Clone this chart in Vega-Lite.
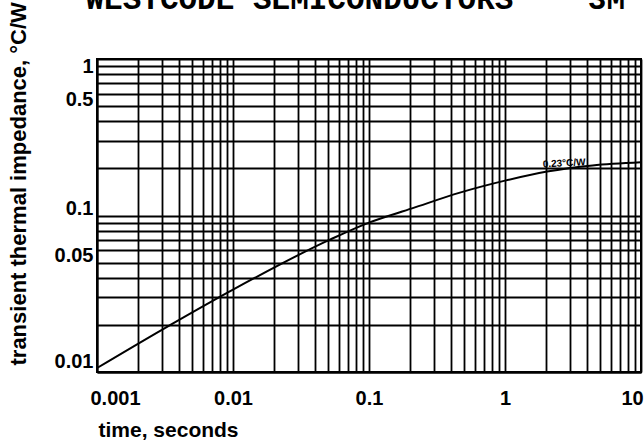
{
  "$schema": "https://vega.github.io/schema/vega-lite/v6.json",
  "width": 544,
  "height": 313,
  "autosize": {"type": "none"},
  "padding": {"left": 97, "top": 59, "right": 3, "bottom": 70},
  "background": "white",
  "view": {"stroke": "black", "strokeWidth": 2},
  "config": {
    "font": "Liberation Sans",
    "axis": {"labelColor": "black", "titleColor": "black"}
  },
  "datasets": {
    "curve": [
      {"t": 0.001, "z": 0.0106},
      {"t": 0.003, "z": 0.0186},
      {"t": 0.01, "z": 0.0336},
      {"t": 0.0516, "z": 0.0701},
      {"t": 0.1, "z": 0.0901},
      {"t": 0.207, "z": 0.111},
      {"t": 0.466, "z": 0.140},
      {"t": 1.0, "z": 0.167},
      {"t": 2.04, "z": 0.191},
      {"t": 4.4, "z": 0.209},
      {"t": 10, "z": 0.219}
    ],
    "note": [
      {"t": 1.9, "z": 0.203, "label": "0.23°C/W"}
    ]
  },
  "layer": [
    {
      "data": {"name": "curve"},
      "mark": {"type": "line", "color": "black", "strokeWidth": 2, "interpolate": "monotone"},
      "encoding": {
        "x": {
          "field": "t", "type": "quantitative",
          "scale": {"type": "log", "domain": [0.001, 10], "nice": false},
          "axis": {
            "orient": "bottom",
            "values": [0.001,0.002,0.003,0.004,0.005,0.006,0.007,0.008,0.009,0.01,0.02,0.03,0.04,0.05,0.06,0.07,0.08,0.09,0.1,0.2,0.3,0.4,0.5,0.6,0.7,0.8,0.9,1,2,3,4,5,6,7,8,9,10],
            "format": "~g",
            "labelExpr": "indexof([0.001,0.01,0.1,1,10], datum.value) >= 0 ? datum.label : ''",
            "labelOverlap": false,
            "labelFlush": false,
            "labelFont": "Liberation Sans",
            "labelFontSize": 20,
            "labelFontWeight": "bold",
            "labelPadding": 16,
            "labelOffset": {"condition": [{"test": "datum.value == 0.001", "value": 18}, {"test": "datum.value == 10", "value": -9}], "value": 0},
            "grid": true,
            "gridColor": "black",
            "gridWidth": 1.8,
            "gridOpacity": 1,
            "domain": true,
            "domainColor": "black",
            "domainWidth": 2,
            "ticks": false,
            "title": "time, seconds",
            "titleFont": "Liberation Sans",
            "titleFontSize": 21,
            "titleFontWeight": "bold",
            "titleAlign": "left",
            "titleAnchor": "start",
            "titleBaseline": "alphabetic",
            "titleX": 1,
            "titleY": 64
          }
        },
        "y": {
          "field": "z", "type": "quantitative",
          "scale": {"type": "log", "domain": [0.01, 1], "nice": false},
          "axis": {
            "values": [0.01,0.02,0.03,0.04,0.05,0.06,0.07,0.08,0.09,0.1,0.2,0.3,0.4,0.5,0.6,0.7,0.8,0.9,1],
            "format": "~g",
            "labelExpr": "indexof([0.01,0.05,0.1,0.5,1], datum.value) >= 0 ? datum.label : ''",
            "labelOverlap": false,
            "labelFlush": false,
            "labelFont": "Liberation Sans",
            "labelFontSize": 20,
            "labelFontWeight": "bold",
            "labelPadding": 4,
            "labelBaseline": "middle",
            "labelOffset": {"condition": [{"test": "datum.value == 1", "value": 7}, {"test": "datum.value == 0.01", "value": -11}], "value": -7},
            "grid": true,
            "gridColor": "black",
            "gridWidth": 1.8,
            "gridOpacity": 1,
            "domain": true,
            "domainColor": "black",
            "domainWidth": 2,
            "ticks": false,
            "title": "transient thermal impedance, °C/W",
            "titleFont": "Liberation Sans",
            "titleFontSize": 22,
            "titleFontWeight": "bold",
            "titleAngle": -90,
            "titleAlign": "left",
            "titleAnchor": "start",
            "titleBaseline": "alphabetic",
            "titleX": -72,
            "titleY": 306
          }
        }
      }
    },
    {
      "data": {"name": "note"},
      "mark": {"type": "text", "align": "left", "baseline": "alphabetic", "fontSize": 10, "fontWeight": "bold", "font": "Liberation Sans", "color": "black", "angle": -3},
      "encoding": {
        "x": {
          "field": "t", "type": "quantitative",
          "scale": {"type": "log", "domain": [0.001, 10], "nice": false},
          "axis": {
            "orient": "top",
            "labels": false,
            "ticks": false,
            "domain": false,
            "grid": false,
            "title": "WESTCODE SEMICONDUCTORS\u00a0\u00a0\u00a0\u00a03M",
            "titleFont": "Liberation Mono",
            "titleFontSize": 31,
            "titleFontWeight": "bold",
            "titleAlign": "left",
            "titleAnchor": "start",
            "titleBaseline": "alphabetic",
            "titleX": -12,
            "titleY": -51
          }
        },
        "y": {"field": "z", "type": "quantitative", "scale": {"type": "log", "domain": [0.01, 1], "nice": false}},
        "text": {"field": "label"}
      }
    }
  ],
  "resolve": {"axis": {"x": "independent"}}
}
